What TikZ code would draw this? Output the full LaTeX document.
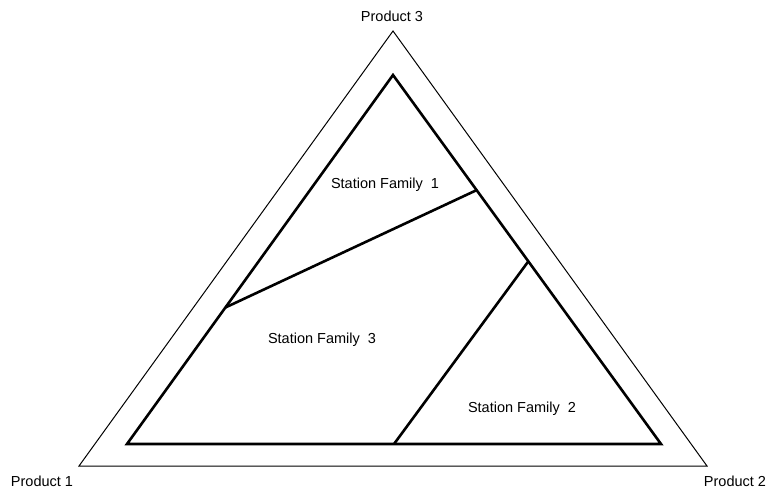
\documentclass[tikz,border=0pt]{standalone}
\usepackage{fontspec}
\setmainfont{Liberation Sans}
\usetikzlibrary{calc}

\begin{document}
\begin{tikzpicture}[x=1pt,y=-1pt,
  lbl/.style={font=\fontsize{14.5}{17}\selectfont},
  outer/.style={line width=1pt},
  inner/.style={line width=2.6pt,line join=miter}]
\useasboundingbox (0,0) rectangle (771,496);
% outer triangle
\coordinate (p_1) at (79,466);
\coordinate (p_2) at (707,466);
\coordinate (p_3) at (393,31);
% inner triangle
\coordinate (i_1) at (127,444);
\coordinate (i_2) at (661,444);
\coordinate (i_3) at (393,75);
% split points
\coordinate (s_a) at ($(i_3)!0.312!(i_2)$);
\coordinate (s_b) at ($(i_3)!0.630!(i_1)$);
\coordinate (s_c) at ($(i_3)!0.505!(i_2)$);
\coordinate (s_d) at (394,444);
\draw[outer] (p_1) -- (p_2) -- (p_3) -- cycle;
\draw[inner] (i_1) -- (i_2) -- (i_3) -- cycle;
\draw[inner] (s_a) -- (s_b);
\draw[inner] (s_c) -- (s_d);
\node[lbl] (prod_3) at (392,16) {Product 3};
\node[lbl] (prod_1) at (42,481) {Product 1};
\node[lbl] (prod_2) at (735,481) {Product 2};
\node[lbl] (fam_1) at (385,185) {Station Family\ \ 1};
\node[lbl] (fam_3) at (322,340) {Station Family\ \ 3};
\node[lbl] (fam_2) at (522,409) {Station Family\ \ 2};
\end{tikzpicture}
\end{document}
